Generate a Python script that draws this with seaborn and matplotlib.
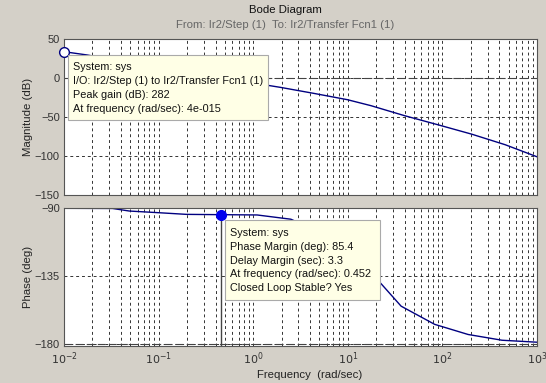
import numpy as np
import pandas as pd
import matplotlib
matplotlib.use("Agg")
import matplotlib.pyplot as plt
from matplotlib.patches import Rectangle
import seaborn as sns

# values
mag_freq = [0.01, 0.0176, 0.05, 0.1, 0.2, 0.452, 1.0, 1.94, 4.37, 9.9, 17.6, 39.8, 90, 204, 460, 1000]
mag_db = [33.7, 29.5, 19.7, 13.7, 7.7, 0.6, -6.4, -12, -19.7, -27.8, -35.5, -48.3, -60, -72, -85.5, -101]

phase_freq = [0.01, 0.0326, 0.049, 0.1, 0.197, 0.452, 1.1, 2.5, 5, 10, 22, 36.6, 82.8, 187, 427, 1000]
phase_deg = [-90.4, -90.5, -92.2, -93.3, -94.4, -94.6, -94.8, -97.6, -106, -120, -139.5, -155, -167, -173.7, -177.5, -178.8]

peak_tip = ["System: sys", "I/O: Ir2/Step (1) to Ir2/Transfer Fcn1 (1)",
            "Peak gain (dB): 282", "At frequency (rad/sec): 4e-015"]
margin_tip = ["System: sys", "Phase Margin (deg): 85.4", "Delay Margin (sec): 3.3",
              "At frequency (rad/sec): 0.452", "Closed Loop Stable? Yes"]
pm_freq, pm_deg = 0.452, -94.6

sns.set_theme(style="white")
plt.rcParams['font.family'] = ['Liberation Sans', 'DejaVu Sans']

W, H = 546, 383
bg = '#d4d0c8'
navy = '#000080'
fs = 7.8
fig = plt.figure(figsize=(W / 100, H / 100), dpi=100, facecolor=bg)


def fx(px):
    return px / W


def fy(py):
    return 1 - py / H


ax1 = fig.add_axes([fx(64), fy(195), fx(537) - fx(64), fy(39) - fy(195)])
ax2 = fig.add_axes([fx(64), fy(346), fx(537) - fx(64), fy(207.7) - fy(346)])

mag = pd.DataFrame({'freq': mag_freq, 'db': mag_db})
ph = pd.DataFrame({'freq': phase_freq, 'deg': phase_deg})

for ax in (ax1, ax2):
    ax.set_xscale('log')
    ax.set_facecolor('white')
    ax.grid(True, which='both', axis='both', color='#333333', linestyle=(0, (3, 3)), linewidth=0.7)
    for s in ax.spines.values():
        s.set_color('#555555')
        s.set_linewidth(0.8)
    ax.tick_params(labelsize=fs + 0.2, colors='#333333', length=0, pad=3)
    ax.set_xlim(0.01, 1000)

sns.lineplot(data=mag, x='freq', y='db', ax=ax1, color=navy, linewidth=1)
sns.lineplot(data=ph, x='freq', y='deg', ax=ax2, color=navy, linewidth=1)

ax1.set_ylim(-150, 50)
ax1.set_yticks([50, 0, -50, -100, -150])
ax1.set_xticklabels([])
ax1.axhline(0, color='#444444', linestyle=(0, (7, 3)), linewidth=0.8)
ax1.plot([mag_freq[0]], [mag_db[0]], 'o', ms=7, mfc='white', mec=navy, mew=1, clip_on=False, zorder=5)

ax2.set_ylim(-181.3, -90)
ax2.set_yticks([-90, -135, -180])
ax2.set_xticks([1e-2, 1e-1, 1e0, 1e1, 1e2, 1e3])
ax2.set_xticklabels([r'$10^{%d}$' % k for k in range(-2, 4)])
ax2.axhline(-180, color='#444444', linestyle=(0, (7, 3)), linewidth=0.8)
ax2.plot([pm_freq, pm_freq], [pm_deg, -181.3], color='#444444', linewidth=1)
ax2.plot([pm_freq], [pm_deg], 'o', ms=7, color='#0000ee', zorder=5)

ax1.set_xlabel('')
ax1.set_ylabel('Magnitude (dB)', fontsize=fs + 0.4, color='#222222')
ax2.set_ylabel('Phase (deg)', fontsize=fs + 0.4, color='#222222')
ax2.set_xlabel('Frequency  (rad/sec)', fontsize=fs + 0.4, color='#222222')
ax1.yaxis.set_label_coords(-0.065, 0.5)
ax2.yaxis.set_label_coords(-0.065, 0.5)
ax2.xaxis.set_label_coords(0.52, -0.175)

fig.text(fx(285), fy(10), 'Bode Diagram', ha='center', va='center', fontsize=fs + 0.4, color='#111111')
fig.text(fx(285), fy(25), 'From: Ir2/Step (1)  To: Ir2/Transfer Fcn1 (1)', ha='center', va='center',
         fontsize=fs + 0.4, color='#666666')


def data_tip(x0, y0, x1, y1, lines, ty0, dy):
    fig.patches.append(Rectangle((fx(x0), fy(y1)), fx(x1) - fx(x0), fy(y0) - fy(y1),
                                 transform=fig.transFigure, facecolor='#ffffe6',
                                 edgecolor='#aaaaaa', linewidth=0.8, zorder=4))
    for i, t in enumerate(lines):
        fig.text(fx(x0 + 5), fy(ty0 + i * dy), t, ha='left', va='center', fontsize=fs,
                 color='#111111', zorder=5)


data_tip(68, 55, 268, 120, peak_tip, 66.7, 14.2)
data_tip(225, 220, 380, 300, margin_tip, 232.7, 13.9)

fig.savefig('out.png', dpi=100, facecolor=bg)
